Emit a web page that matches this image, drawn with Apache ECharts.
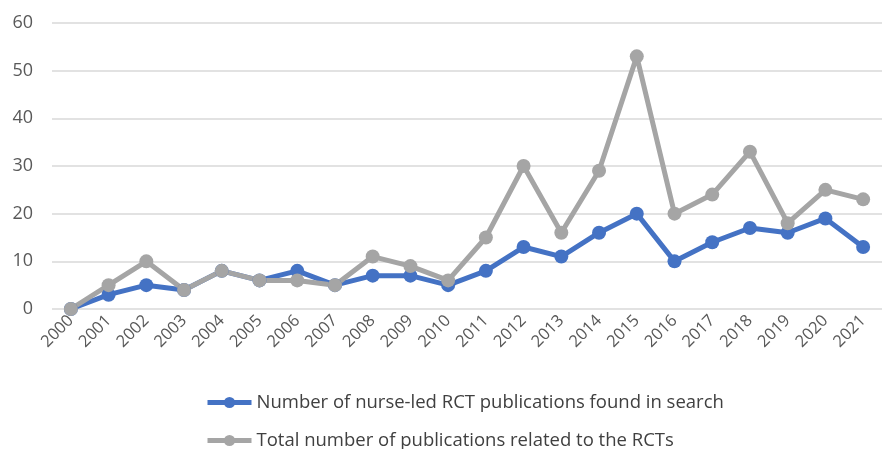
<!DOCTYPE html>
<html>
<head>
<meta charset="utf-8">
<script src="https://cdn.jsdelivr.net/npm/echarts@6/dist/echarts.min.js"></script>
<style>
  html, body { margin: 0; padding: 0; background: #fff; }
  #chart { width: 882px; height: 449px; }
</style>
</head>
<body>
<div id="chart"></div>
<script>
const years = ['2000', '2001', '2002', '2003', '2004', '2005', '2006', '2007', '2008', '2009', '2010',
  '2011', '2012', '2013', '2014', '2015', '2016', '2017', '2018', '2019', '2020', '2021']
const nurseLed = [0, 3, 5, 4, 8, 6, 8, 5, 7, 7, 5, 8, 13, 11, 16, 20, 10, 14, 17, 16, 19, 13]
const totalPubs = [0, 5, 10, 4, 8, 6, 6, 5, 11, 9, 6, 15, 30, 16, 29, 53, 20, 24, 33, 18, 25, 23]

const nameA = 'Number of nurse-led RCT publications found in search'
const nameB = 'Total number of publications related to the RCTs'
const font = 'Open Sans, sans-serif'

var myChart = echarts.init(document.getElementById('chart'))

// one legend per row, stacked like the original
function legendRow(name, top) {
  return {
    left: 200,
    top: top,
    itemWidth: 44,
    itemHeight: 14,
    itemGap: 4,
    lineStyle: { width: 5 },
    textStyle: { fontSize: 18.5, color: '#404040', fontFamily: font },
    data: [name]
  }
}

var option = {
  animation: false,
  textStyle: { fontFamily: font },
  grid: {
    left: 52,
    right: -6,
    top: 23,
    height: 286
  },
  xAxis: {
    type: 'category',
    data: years,
    boundaryGap: true,
    axisLine: { show: false },
    axisTick: { show: false },
    axisLabel: {
      rotate: 45,
      fontSize: 16.5,
      color: '#595959',
      margin: 9
    }
  },
  yAxis: {
    type: 'value',
    min: 0,
    max: 60,
    interval: 10,
    axisLine: { show: false },
    axisTick: { show: false },
    axisLabel: { fontSize: 18, color: '#595959', margin: 19 },
    splitLine: { lineStyle: { color: '#d9d9d9', width: 1.5 } }
  },
  legend: [legendRow(nameA, 388), legendRow(nameB, 426)],
  series: [
    {
      name: nameA,
      type: 'line',
      data: nurseLed,
      symbol: 'circle',
      symbolSize: 14,
      color: '#4472C4',
      lineStyle: { width: 5 }
    },
    {
      name: nameB,
      type: 'line',
      data: totalPubs,
      symbol: 'circle',
      symbolSize: 14,
      color: '#A5A5A5',
      lineStyle: { width: 5 }
    }
  ]
}

option && myChart.setOption(option)
</script>
</body>
</html>
